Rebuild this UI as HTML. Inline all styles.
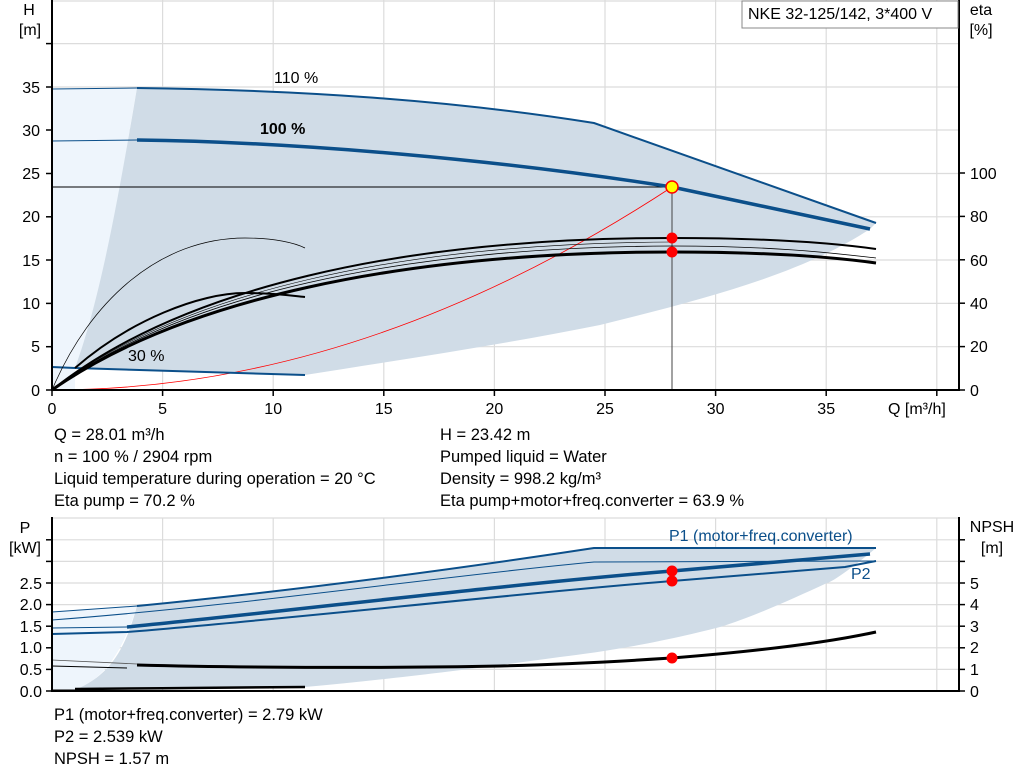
<!DOCTYPE html>
<html><head><meta charset="utf-8"><style>
body{margin:0;background:#fff;}
svg{display:block;font-family:"Liberation Sans",Arial,sans-serif;}
</style></head><body>
<svg width="1024" height="781" viewBox="0 0 1024 781" xmlns="http://www.w3.org/2000/svg">
<g stroke="#dcdcdc" stroke-width="1.2">
<line x1="52" y1="1" x2="959" y2="1"/>
<line x1="52" y1="43.6" x2="959" y2="43.6"/><line x1="52" y1="87" x2="959" y2="87"/><line x1="52" y1="130" x2="959" y2="130"/><line x1="52" y1="173.5" x2="959" y2="173.5"/><line x1="52" y1="216.8" x2="959" y2="216.8"/><line x1="52" y1="260" x2="959" y2="260"/><line x1="52" y1="303.4" x2="959" y2="303.4"/><line x1="52" y1="346.7" x2="959" y2="346.7"/>
<line x1="162.6" y1="0" x2="162.6" y2="390"/><line x1="273.2" y1="0" x2="273.2" y2="390"/><line x1="383.8" y1="0" x2="383.8" y2="390"/><line x1="494.4" y1="0" x2="494.4" y2="390"/><line x1="605" y1="0" x2="605" y2="390"/><line x1="715.6" y1="0" x2="715.6" y2="390"/><line x1="826.2" y1="0" x2="826.2" y2="390"/><line x1="936.8" y1="0" x2="936.8" y2="390"/>
</g>
<path d="M52,89 L137,88 L137,88 C120,180 110,280 75,368 L75,390 L52,390 Z" fill="#eef5fc"/>
<path d="M137,88 C300,90 450,100 594,123 L876,223 L870,229 C800,275 700,300 600,325 C500,345 400,360 305,375 L75,368 C100,300 118,200 137,88 Z" fill="#d0dce7"/>
<line x1="52" y1="187" x2="672" y2="187" stroke="#000" stroke-width="1"/>
<line x1="672" y1="187" x2="672" y2="390" stroke="#444" stroke-width="1"/>
<path d="M52,390 Q362,390 672,187" fill="none" stroke="#f00" stroke-width="0.8"/>
<path d="M52,89 L137,88" stroke="#0b4f8a" stroke-width="1" fill="none"/>
<path d="M137,88 C300,90 450,100 594,123 L876,223" stroke="#0b4f8a" stroke-width="2" fill="none"/>
<path d="M52,141 L137,140" stroke="#0b4f8a" stroke-width="1" fill="none"/>
<path d="M137,140 C300,142 500,160 672,187 L870,229" stroke="#0b4f8a" stroke-width="3.5" fill="none"/>
<path d="M52,367 L75,368 L305,375" stroke="#0b4f8a" stroke-width="2" fill="none"/>
<g fill="none" stroke="#000">
<path d="M52,390 C90,300 160,238 245,238 C275,238 295,243 305,248" stroke-width="0.7"/>
<path d="M75,368 C130,320 200,293 245,293 C275,293 295,296 305,297" stroke-width="2"/>
<path d="M52,390 C180,300 400,252 672,252 C780,252 840,258 876,263" stroke-width="3"/>
<path d="M52,390 C180,295 400,247 672,246 C780,246 840,254 876,258" stroke-width="0.8"/>
<path d="M52,390 C180,288 400,238 672,238 C780,238 840,244 876,249" stroke-width="2"/>
<path d="M52,390 C180,292 400,243 672,242" stroke-width="0.6"/>
</g>
<circle cx="672" cy="187" r="6" fill="#ff0" stroke="#f00" stroke-width="1.5"/>
<circle cx="672" cy="238" r="5.5" fill="#f00"/><circle cx="672" cy="252" r="5.5" fill="#f00"/>
<g stroke="#000" stroke-width="2"><line x1="52" y1="0" x2="52" y2="391"/><line x1="52" y1="390" x2="959" y2="390"/><line x1="959" y1="0" x2="959" y2="391"/></g>
<g stroke="#000" stroke-width="1.5">
<line x1="46" y1="390" x2="52" y2="390"/><line x1="46" y1="346.7" x2="52" y2="346.7"/><line x1="46" y1="303.4" x2="52" y2="303.4"/><line x1="46" y1="260" x2="52" y2="260"/><line x1="46" y1="216.8" x2="52" y2="216.8"/><line x1="46" y1="173.5" x2="52" y2="173.5"/><line x1="46" y1="130" x2="52" y2="130"/><line x1="46" y1="87" x2="52" y2="87"/><line x1="46" y1="43.6" x2="52" y2="43.6"/>
<line x1="959" y1="390" x2="965" y2="390"/><line x1="959" y1="346.6" x2="965" y2="346.6"/><line x1="959" y1="303.2" x2="965" y2="303.2"/><line x1="959" y1="259.8" x2="965" y2="259.8"/><line x1="959" y1="216.4" x2="965" y2="216.4"/><line x1="959" y1="173" x2="965" y2="173"/>
<line x1="52" y1="390" x2="52" y2="396"/><line x1="162.6" y1="390" x2="162.6" y2="396"/><line x1="273.2" y1="390" x2="273.2" y2="396"/><line x1="383.8" y1="390" x2="383.8" y2="396"/><line x1="494.4" y1="390" x2="494.4" y2="396"/><line x1="605" y1="390" x2="605" y2="396"/><line x1="715.6" y1="390" x2="715.6" y2="396"/><line x1="826.2" y1="390" x2="826.2" y2="396"/><line x1="936.8" y1="390" x2="936.8" y2="396"/>
</g>
<g font-size="16" fill="#000">
<text x="29" y="15" text-anchor="middle">H</text><text x="30" y="35" text-anchor="middle">[m]</text>
<g text-anchor="end"><text x="40" y="396">0</text><text x="40" y="352">5</text><text x="40" y="309">10</text><text x="40" y="266">15</text><text x="40" y="222">20</text><text x="40" y="179">25</text><text x="40" y="136">30</text><text x="40" y="93">35</text></g>
<g text-anchor="start"><text x="970" y="396">0</text><text x="970" y="352">20</text><text x="970" y="309">40</text><text x="970" y="266">60</text><text x="970" y="222">80</text><text x="970" y="179">100</text></g>
<text x="981" y="15" text-anchor="middle">eta</text><text x="981" y="35" text-anchor="middle">[%]</text>
<g text-anchor="middle"><text x="52" y="414">0</text><text x="162.6" y="414">5</text><text x="273.2" y="414">10</text><text x="383.8" y="414">15</text><text x="494.4" y="414">20</text><text x="605" y="414">25</text><text x="715.6" y="414">30</text><text x="826.2" y="414">35</text></g>
<text x="888" y="414">Q [m³/h]</text>
<text x="274" y="83">110 %</text>
<text x="260" y="134" font-weight="bold">100 %</text>
<text x="128" y="361">30 %</text>
</g>
<rect x="742" y="1" width="216" height="27" fill="#fff" stroke="#888" stroke-width="1"/>
<text x="748" y="19" font-size="16">NKE 32-125/142, 3*400 V</text>
<g font-size="16.5">
<text x="54" y="440">Q = 28.01 m³/h</text>
<text x="54" y="462">n = 100 % / 2904 rpm</text>
<text x="54" y="484">Liquid temperature during operation = 20 °C</text>
<text x="54" y="506">Eta pump = 70.2 %</text>
<text x="440" y="440">H = 23.42 m</text>
<text x="440" y="462">Pumped liquid = Water</text>
<text x="440" y="484">Density = 998.2 kg/m³</text>
<text x="440" y="506">Eta pump+motor+freq.converter = 63.9 %</text>
</g>
<g stroke="#dcdcdc" stroke-width="1.2">
<line x1="52" y1="518" x2="959" y2="518"/><line x1="52" y1="539.8" x2="959" y2="539.8"/><line x1="52" y1="561.4" x2="959" y2="561.4"/><line x1="52" y1="583" x2="959" y2="583"/><line x1="52" y1="604.6" x2="959" y2="604.6"/><line x1="52" y1="626.2" x2="959" y2="626.2"/><line x1="52" y1="647.8" x2="959" y2="647.8"/><line x1="52" y1="669.4" x2="959" y2="669.4"/>
<line x1="162.6" y1="518" x2="162.6" y2="691"/><line x1="273.2" y1="518" x2="273.2" y2="691"/><line x1="383.8" y1="518" x2="383.8" y2="691"/><line x1="494.4" y1="518" x2="494.4" y2="691"/><line x1="605" y1="518" x2="605" y2="691"/><line x1="715.6" y1="518" x2="715.6" y2="691"/><line x1="826.2" y1="518" x2="826.2" y2="691"/><line x1="936.8" y1="518" x2="936.8" y2="691"/>
</g>
<path d="M52,612 L137,606 L137,606 C120,660 100,680 75,690 L52,690 Z" fill="#eef5fc"/>
<path d="M137,606 C300,590 450,570 594,548 L876,548 C850,570 830,583 827,583 C790,600 750,618 720,627 C650,645 600,652 560,657 C450,672 380,680 305,687 L75,690 C110,675 125,650 137,606 Z" fill="#d0dce7"/>
<g fill="none" stroke="#0b4f8a">
<path d="M52,612 L137,606" stroke-width="1"/>
<path d="M137,606 C300,590 450,570 594,548 L876,548" stroke-width="2"/>
<path d="M52,620 C250,605 450,575 594,562 L876,561" stroke-width="1"/>
<path d="M52,628 L127,627" stroke-width="1"/>
<path d="M127,627 C300,610 500,585 672,571 L870,554" stroke-width="3.5"/>
<path d="M52,634 L127,632 C300,618 500,595 672,581 L845,567 L876,561" stroke-width="2"/>
</g>
<g fill="none" stroke="#000">
<path d="M52,660 L137,664" stroke-width="0.8" stroke="#555"/>
<path d="M52,666 L127,668" stroke-width="1"/>
<path d="M137,665 C250,668 400,668 500,666 C580,664 640,660 672,658 C760,651 830,642 876,632" stroke-width="3"/>
<path d="M75,689 C150,688 250,688 305,687" stroke-width="2.5"/>
<path d="M52,690 L75,690" stroke-width="1"/>
</g>
<circle cx="672" cy="571" r="5.5" fill="#f00"/><circle cx="672" cy="581" r="5.5" fill="#f00"/><circle cx="672" cy="658" r="5.5" fill="#f00"/>
<g stroke="#000" stroke-width="2"><line x1="52" y1="517" x2="52" y2="692"/><line x1="52" y1="691" x2="959" y2="691"/><line x1="959" y1="517" x2="959" y2="692"/></g>
<g stroke="#000" stroke-width="1.5">
<line x1="46" y1="691" x2="52" y2="691"/><line x1="46" y1="669.4" x2="52" y2="669.4"/><line x1="46" y1="647.8" x2="52" y2="647.8"/><line x1="46" y1="626.2" x2="52" y2="626.2"/><line x1="46" y1="604.6" x2="52" y2="604.6"/><line x1="46" y1="583" x2="52" y2="583"/><line x1="46" y1="561.4" x2="52" y2="561.4"/><line x1="46" y1="539.8" x2="52" y2="539.8"/>
<line x1="959" y1="691" x2="965" y2="691"/><line x1="959" y1="669.4" x2="965" y2="669.4"/><line x1="959" y1="647.8" x2="965" y2="647.8"/><line x1="959" y1="626.2" x2="965" y2="626.2"/><line x1="959" y1="604.6" x2="965" y2="604.6"/><line x1="959" y1="583" x2="965" y2="583"/><line x1="959" y1="561.4" x2="965" y2="561.4"/><line x1="959" y1="539.8" x2="965" y2="539.8"/>
</g>
<g font-size="16" fill="#000">
<text x="25" y="533" text-anchor="middle">P</text><text x="25" y="553" text-anchor="middle">[kW]</text>
<g text-anchor="end"><text x="42" y="697">0.0</text><text x="42" y="675">0.5</text><text x="42" y="653">1.0</text><text x="42" y="632">1.5</text><text x="42" y="610">2.0</text><text x="42" y="589">2.5</text></g>
<g><text x="970" y="697">0</text><text x="970" y="675">1</text><text x="970" y="653">2</text><text x="970" y="632">3</text><text x="970" y="610">4</text><text x="970" y="589">5</text></g>
<text x="992" y="532" text-anchor="middle">NPSH</text><text x="992" y="553" text-anchor="middle">[m]</text>
<text x="669" y="541" fill="#0b4f8a">P1 (motor+freq.converter)</text>
<text x="851" y="579" fill="#0b4f8a">P2</text>
<text x="54" y="720" font-size="16.5">P1 (motor+freq.converter) = 2.79 kW</text>
<text x="54" y="742" font-size="16.5">P2 = 2.539 kW</text>
<text x="54" y="764" font-size="16.5">NPSH = 1.57 m</text>
</g>
</svg>
</body></html>
